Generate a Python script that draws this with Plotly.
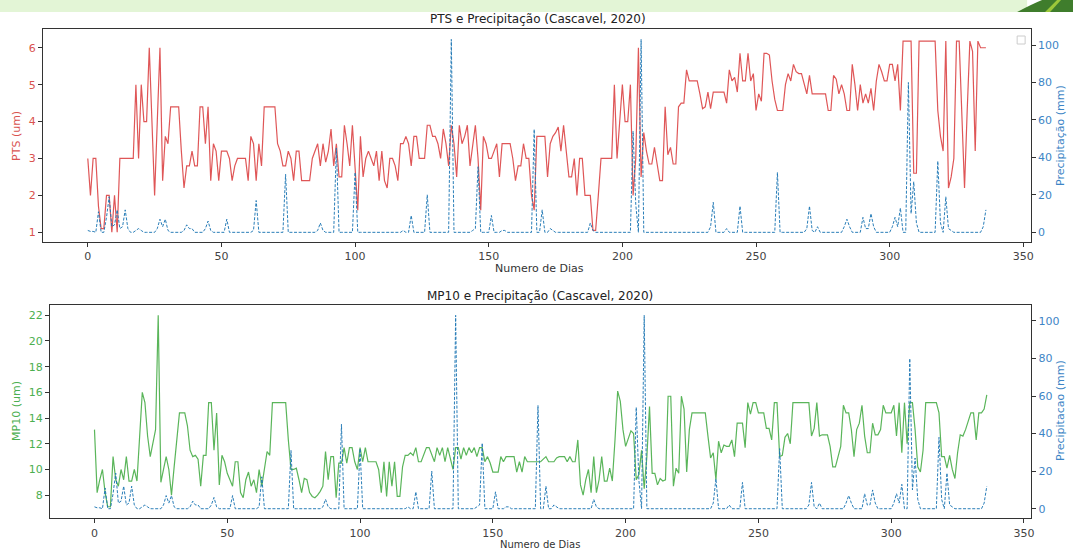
import plotly.graph_objects as go

# ---------------- data ----------------
days = list(range(337))

pts = [
    3.0, 2.0, 3.0, 3.0, 1.7, 1.1, 1.1, 2.0, 2.0, 1.0,
    2.0, 1.0, 3.0, 3.0, 3.0, 3.0, 3.0, 3.0, 5.0, 3.0,
    5.0, 4.0, 4.0, 6.0, 4.0, 2.0, 4.0, 6.0, 2.4, 3.6,
    3.4, 4.4, 4.4, 4.4, 4.4, 3.2, 2.2, 2.8, 2.8, 3.2,
    2.8, 2.8, 4.4, 4.4, 3.4, 4.4, 2.4, 3.4, 3.2, 2.4,
    3.2, 3.2, 3.2, 3.0, 2.4, 2.8, 3.0, 3.0, 3.0, 3.0,
    2.4, 3.6, 3.4, 2.4, 3.4, 2.8, 4.4, 4.4, 4.4, 4.4,
    4.4, 3.4, 3.2, 2.8, 2.8, 3.2, 3.0, 2.4, 3.2, 3.2,
    2.4, 2.4, 2.4, 2.4, 3.0, 3.2, 3.4, 2.8, 3.4, 2.9,
    3.2, 3.8, 2.8, 3.4, 2.5, 2.5, 3.9, 3.4, 2.8, 3.9,
    2.8, 1.6, 3.6, 2.5, 3.0, 3.2, 3.0, 2.8, 3.2, 2.4,
    3.2, 2.4, 2.2, 3.0, 3.0, 2.8, 2.4, 3.4, 3.4, 3.6,
    3.4, 2.8, 3.6, 3.6, 3.0, 3.0, 3.0, 3.9, 3.9, 3.6,
    3.6, 3.4, 3.0, 3.8, 3.4, 2.8, 3.9, 3.4, 2.5, 3.9,
    3.4, 3.6, 3.9, 2.8, 3.4, 3.9, 3.0, 1.6, 3.6, 3.4,
    3.0, 3.0, 3.2, 3.4, 2.5, 3.4, 3.4, 3.4, 3.4, 3.0,
    2.4, 2.8, 2.8, 3.4, 3.0, 3.0, 2.0, 1.6, 3.6, 3.6,
    3.6, 3.6, 2.5, 3.4, 3.6, 3.7, 3.85, 3.2, 3.9, 3.2,
    2.5, 2.5, 3.0, 2.0, 3.0, 3.0, 2.0, 2.0, 2.0, 1.05,
    1.05, 2.0, 3.0, 3.0, 3.0, 3.0, 3.0, 5.0, 3.0, 4.0,
    5.0, 4.0, 4.0, 5.0, 2.0, 3.0, 6.0, 2.5, 3.7, 3.2,
    2.85, 2.85, 3.3, 2.85, 2.4, 2.4, 4.4, 3.1, 3.3, 2.85,
    2.85, 4.4, 4.5, 4.5, 5.4, 5.1, 5.1, 5.1, 5.1, 4.75,
    4.35, 4.4, 4.8, 4.35, 4.8, 4.8, 4.8, 4.8, 4.8, 4.5,
    5.4, 5.1, 5.2, 4.8, 5.85, 5.1, 5.1, 5.85, 5.1, 5.3,
    4.3, 4.75, 4.55, 5.85, 5.85, 5.8, 5.1, 4.6, 4.3, 4.3,
    4.3, 5.0, 5.3, 5.1, 5.55, 5.35, 5.3, 5.3, 5.0, 4.75,
    5.25, 4.75, 4.75, 4.75, 4.75, 4.75, 4.75, 4.3, 4.3, 5.25,
    5.15, 4.75, 5.0, 4.75, 4.3, 4.3, 5.55, 5.0, 4.3, 5.0,
    4.5, 4.75, 4.5, 4.9, 4.3, 5.1, 5.55, 5.35, 5.1, 5.1,
    5.55, 5.55, 5.1, 5.55, 4.3, 6.18, 6.18, 6.18, 6.18, 2.6,
    2.6, 6.18, 6.18, 6.18, 6.18, 6.18, 6.18, 6.18, 4.3, 3.6,
    3.2, 6.18, 2.2, 2.5, 3.0, 6.18, 6.18, 4.0, 2.2, 4.3,
    6.18, 5.9, 3.2, 6.18, 6.0, 6.0, 6.0,
]

mp10 = [
    13.1, 8.2, 9.2, 10.0, 8.2, 7.1, 7.1, 11.0, 9.2, 8.7,
    10.0, 9.2, 11.0, 9.1, 9.1, 10.0, 9.1, 12.5, 16.0, 15.2,
    12.6, 11.0, 12.0, 13.1, 22.0, 9.0, 10.0, 11.0, 10.0, 8.0,
    10.2, 12.6, 14.4, 14.4, 14.4, 13.4, 11.5, 11.0, 11.1, 10.8,
    8.7, 11.1, 11.1, 15.2, 15.2, 11.5, 14.4, 8.8, 11.1, 10.6,
    9.7, 9.2, 8.7, 10.6, 10.6, 8.2, 7.8, 9.2, 9.8, 8.7,
    9.2, 8.2, 10.0, 8.7, 10.2, 11.4, 11.1, 15.2, 15.2, 15.2,
    15.2, 15.2, 15.2, 12.3, 10.0, 10.0, 10.1, 9.2, 8.2, 9.3,
    9.2, 8.2, 7.9, 7.8, 8.0, 8.3, 8.7, 11.4, 9.2, 11.0,
    11.0, 7.8, 10.5, 10.5, 11.7, 10.5, 11.7, 11.7, 10.6, 10.0,
    11.7, 10.6, 11.7, 10.6, 10.6, 10.6, 10.6, 10.0, 8.2, 10.6,
    7.9, 10.6, 8.7, 10.6, 7.9, 7.9, 10.2, 11.1, 11.1, 11.3,
    11.1, 11.7, 10.6, 10.6, 11.1, 11.7, 11.7, 11.1, 10.6, 11.7,
    11.1, 11.7, 10.6, 11.7, 10.8, 10.0, 11.7, 11.7, 10.8, 11.7,
    11.1, 11.7, 11.3, 11.7, 11.0, 11.7, 11.7, 10.6, 11.0, 10.5,
    9.8, 9.8, 9.8, 11.0, 10.6, 11.0, 11.0, 11.0, 11.0, 9.8,
    10.6, 9.8, 11.0, 10.6, 10.6, 10.6, 10.6, 10.6, 10.6, 10.8,
    11.0, 10.6, 10.6, 10.6, 10.9, 11.0, 11.0, 11.0, 10.6, 11.0,
    10.6, 10.6, 12.3, 8.8, 8.0, 9.2, 10.0, 8.2, 11.0, 8.2,
    9.2, 11.0, 9.1, 9.1, 10.1, 9.1, 12.3, 16.1, 15.3, 13.1,
    11.8, 12.5, 13.0, 12.8, 9.2, 9.6, 11.5, 8.5, 11.0, 14.9,
    9.7, 9.7, 8.8, 9.3, 9.1, 9.2, 15.7, 15.7, 8.7, 10.1,
    9.7, 15.7, 14.7, 9.8, 13.1, 14.4, 14.4, 14.4, 14.4, 14.4,
    14.4, 12.6, 10.9, 11.3, 9.2, 12.2, 11.3, 11.9, 11.8, 11.8,
    12.3, 11.0, 13.6, 13.6, 13.6, 11.7, 15.2, 14.3, 15.2, 15.2,
    14.4, 14.4, 14.4, 13.2, 13.2, 12.3, 15.2, 15.2, 11.0, 11.1,
    12.5, 12.8, 12.0, 15.2, 15.2, 15.2, 15.2, 15.2, 15.2, 15.2,
    12.6, 13.2, 15.2, 12.6, 12.7, 12.7, 12.7, 11.8, 10.2, 10.2,
    11.0, 11.8, 15.0, 14.4, 14.4, 13.1, 11.0, 13.1, 13.6, 15.0,
    12.6, 11.3, 11.3, 13.6, 12.7, 12.7, 13.1, 15.0, 14.4, 14.4,
    14.4, 15.0, 12.6, 15.2, 11.3, 15.2, 12.0, 15.2, 15.2, 13.1,
    10.2, 9.8, 11.5, 15.2, 15.2, 15.2, 15.2, 15.2, 14.4, 11.0,
    11.0, 10.1, 11.1, 10.0, 9.3, 11.3, 12.7, 12.6, 13.1, 13.8,
    14.4, 14.4, 12.3, 14.4, 14.4, 14.7, 15.8,
]

precip = [
    1, 0.5, 0.5, 0, 11, 0, 0, 8, 19, 3,
    4, 12, 2, 3, 12, 2, 0, 0, 1, 2,
    1, 0, 0, 0, 0, 0, 2, 7, 3, 7,
    1, 0, 0, 0, 0, 0, 1, 4, 2, 2,
    0, 0, 0, 0, 2, 6, 1, 0, 0, 0,
    0, 0, 7, 0, 0, 0, 0, 0, 0, 0,
    0, 0, 1, 17, 0, 0, 0, 0, 0, 0,
    0, 0, 0, 0, 31, 0, 0, 0, 0, 0,
    0, 0, 0, 0, 0, 0, 1, 5, 1, 0,
    0, 0, 0, 45, 0, 0, 0, 0, 0, 0,
    32, 0, 0, 0, 0, 0, 0, 0, 0, 0,
    0, 0, 0, 0, 0, 0, 0, 0, 1, 0,
    0, 9, 0, 0, 0, 0, 0, 20, 0, 0,
    0, 0, 0, 0, 0, 0, 103, 0, 0, 0,
    0, 0, 0, 0, 1, 2, 35, 0, 0, 0,
    0, 9, 0, 0, 0, 1, 1, 0, 0, 0,
    0, 0, 0, 0, 0, 0, 0, 55, 0, 0,
    12, 0, 0, 2, 1, 0, 0, 0, 0, 0,
    0, 0, 0, 0, 0, 0, 0, 0, 5, 1,
    0, 0, 0, 0, 0, 0, 0, 0, 0, 0,
    0, 0, 0, 0, 54, 15, 0, 103, 0, 0,
    0, 0, 0, 0, 0, 0, 0, 0, 0, 0,
    0, 0, 0, 0, 0, 0, 0, 0, 0, 0,
    0, 0, 0, 3, 16, 0, 0, 0, 0, 2,
    0, 0, 0, 0, 14, 0, 0, 0, 0, 0,
    0, 0, 0, 0, 0, 0, 0, 0, 32, 0,
    0, 0, 0, 0, 0, 0, 0, 0, 0, 2,
    14, 1, 0, 3, 0, 0, 0, 0, 0, 0,
    0, 0, 0, 3, 7, 3, 0, 0, 0, 0,
    8, 2, 2, 10, 3, 0, 0, 0, 0, 0,
    0, 3, 8, 3, 13, 0, 0, 80, 10, 27,
    5, 0, 0, 0, 0, 0, 0, 0, 38, 5,
    0, 19, 2, 1, 0, 0, 0, 0, 0, 0,
    0, 0, 0, 0, 0, 3, 12,
]

x_ticks = [0, 50, 100, 150, 200, 250, 300, 350]
pts_ticks = [1, 2, 3, 4, 5, 6]
mp10_ticks = [8, 10, 12, 14, 16, 18, 20, 22]
prec_ticks = [0, 20, 40, 60, 80, 100]

# ---------------- styling ----------------
W, H = 1076, 550
FONT = "DejaVu Sans"
RED = "rgba(214,39,40,0.78)"
GREEN = "rgba(44,160,44,0.78)"
BLUE = "rgba(31,119,180,0.95)"
RED_T = "#d9534f"
GREEN_T = "#4caf50"
BLUE_T = "#3d85c6"
AX = "#333333"


def fx(px):
    return px / W


def fy(py):
    return 1 - py / H


fig = go.Figure()

fig.add_trace(go.Scatter(x=days, y=pts, mode="lines", line=dict(color=RED, width=1.2),
                         xaxis="x", yaxis="y", showlegend=False))
fig.add_trace(go.Scatter(x=days, y=precip, mode="lines",
                         line=dict(color=BLUE, width=1, dash="3px,1.6px"),
                         xaxis="x", yaxis="y2", showlegend=False))
fig.add_trace(go.Scatter(x=days, y=mp10, mode="lines", line=dict(color=GREEN, width=1.2),
                         xaxis="x2", yaxis="y3", showlegend=False))
fig.add_trace(go.Scatter(x=days, y=precip, mode="lines",
                         line=dict(color=BLUE, width=1, dash="3px,1.6px"),
                         xaxis="x2", yaxis="y4", showlegend=False))

common_x = dict(range=[-16.8, 352.8], tickvals=x_ticks, ticks="outside", ticklen=4,
                tickcolor=AX, showline=True, linecolor=AX, linewidth=1, mirror=True,
                showgrid=False, zeroline=False, tickfont=dict(size=11, color="#444"))


def yax(rng, ticks, color, **kw):
    d = dict(range=rng, tickvals=ticks, ticks="outside", ticklen=4, tickcolor=AX,
             showline=True, linecolor=AX, linewidth=1, showgrid=False, zeroline=False,
             tickfont=dict(size=11, color=color))
    d.update(kw)
    return d


top_dom = [fy(241.7), fy(29.3)]
bot_dom = [fy(518.3), fy(305)]

fig.update_layout(
    width=W, height=H,
    margin=dict(l=0, r=0, t=0, b=0),
    paper_bgcolor="white", plot_bgcolor="white",
    font=dict(family=FONT, size=11, color="#333"),
    showlegend=False,
    xaxis=dict(domain=[fx(43), fx(1033.7)], anchor="y", **common_x),
    yaxis=yax([0.745, 6.50], pts_ticks, RED_T, domain=top_dom, anchor="x", mirror=True),
    yaxis2=yax([-5.0, 108.4], prec_ticks, BLUE_T, overlaying="y", side="right", anchor="x"),
    xaxis2=dict(domain=[fx(50), fx(1034.3)], anchor="y3", **common_x),
    yaxis3=yax([6.2, 22.8], mp10_ticks, GREEN_T, domain=bot_dom, anchor="x2", mirror=True),
    yaxis4=yax([-5.1, 108.5], prec_ticks, BLUE_T, overlaying="y3", side="right", anchor="x2"),
)

ann = []


def text(x, y, s, size=11, color="#333", angle=0):
    ann.append(dict(x=fx(x), y=fy(y), xref="paper", yref="paper", text=s, showarrow=False,
                    font=dict(family=FONT, size=size, color=color), textangle=angle,
                    xanchor="center", yanchor="middle"))


text(540, 19, "PTS e Precipitação (Cascavel, 2020)", size=12, color="#222")
text(541, 269, "Numero de Dias", size=11, color="#333")
text(16, 136, "PTS (um)", size=11, color=RED_T, angle=-90)
text(1063, 136, "Precipitação (mm)", size=11, color=BLUE_T, angle=-90)

text(542, 296, "MP10 e Precipitação (Cascavel, 2020)", size=12, color="#222")
text(542, 544, "Numero de Dias", size=10, color="#333")
text(16, 411, "MP10 (um)", size=11, color=GREEN_T, angle=-90)
text(1063, 411, "Precipitacao (mm)", size=11, color=BLUE_T, angle=-90)

fig.update_layout(annotations=ann)

shapes = [
    # slide banner at top
    dict(type="rect", xref="paper", yref="paper", x0=0, x1=fx(1030), y0=fy(12), y1=1,
         fillcolor="#e3f5d6", line=dict(width=0), layer="below"),
    dict(type="path", xref="paper", yref="paper",
         path=f"M {fx(1020)} {fy(12)} Q {fx(1035)} {fy(4)} {fx(1045)} 1 L 1 1 L 1 {fy(12)} Z",
         fillcolor="#3f7d2c", line=dict(width=0)),
    dict(type="path", xref="paper", yref="paper",
         path=f"M {fx(1048)} {fy(12)} L {fx(1060)} 1 L {fx(1064)} 1 L {fx(1053)} {fy(12)} Z",
         fillcolor="#9cc83a", line=dict(width=0)),
    # empty legend box
    dict(type="rect", xref="paper", yref="paper", x0=fx(1020), x1=fx(1028),
         y0=fy(44), y1=fy(36), line=dict(color="#cccccc", width=1), fillcolor="white"),
]
fig.update_layout(shapes=shapes)

fig.write_html("out.html")
